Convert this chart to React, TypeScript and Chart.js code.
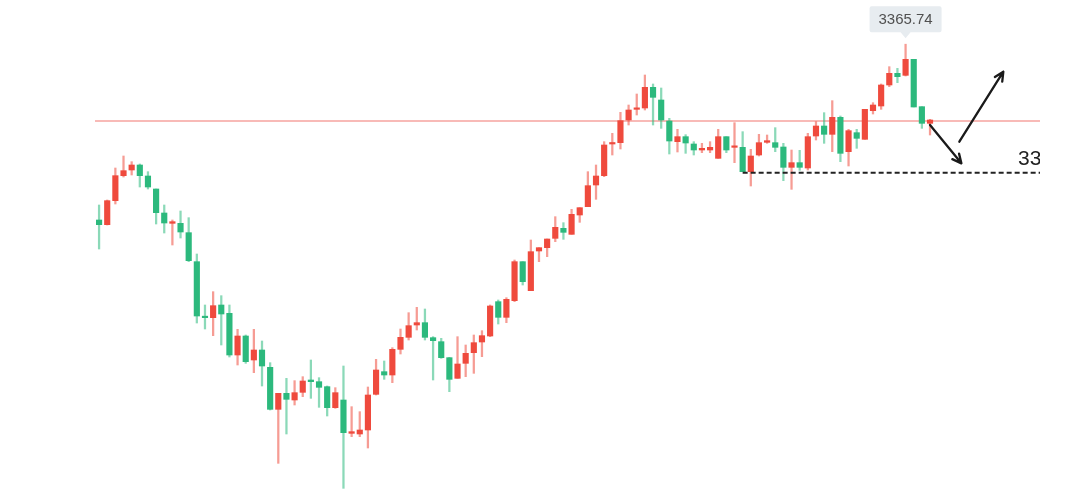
import React, { useEffect, useRef } from "react";
import { Chart, registerables } from "chart.js";

Chart.register(...registerables);

// ---- Data (price units) ----
const opens = [
  3313.0, 3311.6, 3318.8, 3326.3, 3328.0, 3329.5, 3326.2, 3322.3, 3315.1, 3312.0,
  3312.0, 3309.2, 3300.5, 3284.0, 3283.7, 3287.5, 3285.0, 3272.5, 3278.2, 3271.0,
  3274.0, 3268.8, 3256.2, 3261.0, 3259.0, 3261.3, 3265.0, 3264.5, 3263.0, 3256.7,
  3259.0, 3249.0, 3248.8, 3250.0, 3260.7, 3267.5, 3266.5, 3274.2, 3277.8, 3281.5,
  3282.2, 3277.7, 3276.5, 3271.7, 3265.5, 3270.0, 3273.2, 3276.4, 3278.2, 3288.5,
  3283.8, 3288.8, 3300.5, 3291.8, 3303.7, 3304.7, 3307.5, 3310.5, 3308.7, 3314.5,
  3317.0, 3323.5, 3326.3, 3335.8, 3336.2, 3343.0, 3346.2, 3346.6, 3352.8, 3349.0,
  3342.7, 3336.5, 3338.0, 3335.8, 3334.0, 3334.0, 3331.5, 3338.0, 3334.8, 3334.8,
  3327.5, 3332.5, 3336.3, 3336.2, 3334.9, 3328.8, 3330.2, 3328.6, 3338.2, 3341.2,
  3338.7, 3343.8, 3333.5, 3339.2, 3337.2, 3345.8, 3347.2, 3353.5, 3357.0, 3356.4,
  3361.2, 3347.0, 3342.0,
];
const highs = [
  3317.5, 3319.0, 3328.6, 3332.2, 3330.5, 3329.8, 3327.5, 3322.3, 3317.5, 3313.0,
  3315.7, 3313.7, 3302.8, 3287.5, 3291.5, 3290.3, 3287.5, 3280.2, 3278.5, 3280.2,
  3276.7, 3270.2, 3261.0, 3265.5, 3264.8, 3266.0, 3271.0, 3265.7, 3263.2, 3262.7,
  3269.2, 3257.0, 3255.5, 3262.9, 3271.2, 3270.7, 3274.7, 3280.3, 3285.2, 3286.8,
  3286.3, 3278.0, 3277.5, 3271.8, 3278.0, 3275.5, 3278.5, 3279.8, 3287.5, 3289.0,
  3289.7, 3301.0, 3300.5, 3307.0, 3304.7, 3307.3, 3314.0, 3312.2, 3316.2, 3316.7,
  3327.5, 3329.5, 3336.5, 3339.0, 3345.3, 3347.5, 3350.8, 3356.5, 3353.8, 3352.6,
  3343.5, 3340.2, 3338.6, 3336.5, 3336.0, 3336.5, 3340.2, 3338.0, 3342.2, 3339.5,
  3334.2, 3338.7, 3338.5, 3340.7, 3336.0, 3334.0, 3333.9, 3339.0, 3342.5, 3345.2,
  3348.8, 3344.2, 3340.2, 3340.2, 3346.2, 3348.2, 3353.8, 3359.0, 3358.5, 3365.74,
  3361.2, 3347.0, 3343.2,
];
const lows = [
  3304.3, 3311.5, 3317.8, 3325.9, 3326.5, 3322.9, 3322.3, 3311.8, 3309.1, 3305.5,
  3307.6, 3300.5, 3282.1, 3280.3, 3278.3, 3275.5, 3271.9, 3269.5, 3270.0, 3267.2,
  3263.2, 3256.0, 3240.0, 3248.8, 3257.5, 3260.0, 3259.5, 3256.8, 3254.2, 3256.5,
  3232.5, 3248.0, 3248.0, 3244.6, 3260.5, 3265.2, 3264.2, 3272.8, 3277.0, 3280.0,
  3277.0, 3265.0, 3271.5, 3261.5, 3265.5, 3266.0, 3267.0, 3272.0, 3278.0, 3281.8,
  3282.2, 3288.5, 3293.5, 3291.8, 3300.5, 3302.0, 3306.5, 3307.2, 3308.7, 3312.3,
  3317.0, 3319.2, 3326.0, 3332.5, 3334.3, 3341.5, 3344.5, 3346.0, 3341.5, 3340.5,
  3332.8, 3333.4, 3333.0, 3332.5, 3333.2, 3333.2, 3331.5, 3333.2, 3330.2, 3327.5,
  3323.2, 3332.2, 3336.0, 3333.5, 3324.8, 3322.2, 3327.9, 3328.0, 3337.0, 3336.0,
  3333.5, 3330.5, 3329.2, 3334.5, 3337.2, 3344.8, 3346.2, 3353.0, 3354.2, 3356.2,
  3346.9, 3340.5, 3338.5,
];
const closes = [
  3311.6, 3318.8, 3326.3, 3327.8, 3329.5, 3326.3, 3322.9, 3315.2, 3312.1, 3312.5,
  3309.4, 3300.8, 3284.2, 3283.7, 3287.3, 3284.8, 3272.5, 3278.2, 3270.5, 3274.0,
  3269.2, 3256.2, 3261.0, 3259.2, 3261.2, 3264.7, 3264.5, 3262.8, 3256.7, 3261.2,
  3249.2, 3249.5, 3250.0, 3260.5, 3268.0, 3266.5, 3274.2, 3277.8, 3281.3, 3282.2,
  3277.8, 3276.8, 3271.7, 3265.2, 3269.8, 3273.0, 3276.2, 3278.3, 3287.2, 3283.8,
  3289.2, 3300.5, 3294.5, 3303.5, 3304.7, 3307.3, 3310.8, 3309.3, 3314.7, 3316.7,
  3323.3, 3326.2, 3335.5, 3336.2, 3342.8, 3346.0, 3346.5, 3352.8, 3349.8, 3343.0,
  3336.7, 3338.0, 3336.1, 3334.0, 3334.5, 3334.8, 3338.0, 3334.0, 3335.0, 3327.5,
  3332.2, 3336.2, 3336.8, 3334.8, 3328.8, 3330.2, 3328.8, 3338.0, 3341.2, 3338.7,
  3343.8, 3333.0, 3339.8, 3337.5, 3346.2, 3347.5, 3353.5, 3357.0, 3356.0, 3361.2,
  3346.9, 3342.0, 3343.0,
];
const emptySlots = 13;
const resistanceLevel = 3342.7;
const supportLevel = 3327.2;
const supportStartIndex = 79;
const supportText = "3327";
const supportTextPos = { index: 112.8, price: 3329.5 };
const peakIndex = 99;
const peakLabel = "3365.74";
const arrowDown = { from: [102, 3341.5], to: [105.85, 3330.0] };
const arrowUp = { from: [105.6, 3336.5], to: [111.0, 3357.5] };
const yMin = 3232.3;
const yMax = 3379.0;

const UP = "#ef4a3d";
const DOWN = "#2cb97d";
const UP_WICK = "rgba(239,74,61,0.55)";
const DOWN_WICK = "rgba(44,185,125,0.55)";

const App: React.FC = () => {
  const ref = useRef<HTMLCanvasElement | null>(null);

  useEffect(() => {
    if (!ref.current) return;
    const n = opens.length;
    const total = n + emptySlots;
    const labels = Array.from({ length: total }, (_, i) => String(i));
    const wickData = labels.map((_, i) => (i < n ? [lows[i], highs[i]] : null));
    const bodyData = labels.map((_, i) => (i < n ? [opens[i], closes[i]] : null));
    const isUp = labels.map((_, i) => (i < n ? closes[i] >= opens[i] : true));

    const overlay = {
      id: "overlay",
      beforeDatasetsDraw(chart: any) {
        const { ctx, chartArea, scales } = chart;
        const y = scales.y;
        const yy = y.getPixelForValue(resistanceLevel);
        ctx.save();
        ctx.strokeStyle = "rgba(238,90,80,0.55)";
        ctx.lineWidth = 1.5;
        ctx.beginPath();
        ctx.moveTo(chartArea.left, yy);
        ctx.lineTo(chartArea.right, yy);
        ctx.stroke();
        ctx.restore();
      },
      afterDatasetsDraw(chart: any) {
        const { ctx, chartArea, scales } = chart;
        const x = scales.x;
        const y = scales.y;
        ctx.save();
        ctx.beginPath();
        ctx.rect(chartArea.left, 0, chartArea.right - chartArea.left, chart.height);
        ctx.clip();

        // support dashed line
        const sy = y.getPixelForValue(supportLevel);
        ctx.strokeStyle = "#222";
        ctx.lineWidth = 2;
        ctx.setLineDash([5, 3]);
        ctx.beginPath();
        ctx.moveTo(x.getPixelForValue(supportStartIndex), sy);
        ctx.lineTo(chartArea.right, sy);
        ctx.stroke();
        ctx.setLineDash([]);

        // support text (clipped at right)
        ctx.fillStyle = "#222";
        ctx.font = "21px 'Liberation Sans', Arial, sans-serif";
        ctx.textAlign = "left";
        ctx.textBaseline = "alphabetic";
        ctx.fillText(
          supportText,
          x.getPixelForValue(supportTextPos.index),
          y.getPixelForValue(supportTextPos.price)
        );

        // arrows
        const drawArrow = (a: { from: number[]; to: number[] }) => {
          const x1 = x.getPixelForValue(a.from[0]);
          const y1 = y.getPixelForValue(a.from[1]);
          const x2 = x.getPixelForValue(a.to[0]);
          const y2 = y.getPixelForValue(a.to[1]);
          const ang = Math.atan2(y2 - y1, x2 - x1);
          const L = 10;
          ctx.strokeStyle = "#1a1a1a";
          ctx.lineWidth = 2.3;
          ctx.lineCap = "round";
          ctx.lineJoin = "round";
          ctx.beginPath();
          ctx.moveTo(x1, y1);
          ctx.lineTo(x2, y2);
          ctx.moveTo(x2 - L * Math.cos(ang - 0.45), y2 - L * Math.sin(ang - 0.45));
          ctx.lineTo(x2, y2);
          ctx.lineTo(x2 - L * Math.cos(ang + 0.45), y2 - L * Math.sin(ang + 0.45));
          ctx.stroke();
        };
        drawArrow(arrowDown);
        drawArrow(arrowUp);
        ctx.restore();

        // peak label
        ctx.save();
        const px = x.getPixelForValue(peakIndex);
        const py = y.getPixelForValue(highs[peakIndex]);
        const bw = 72;
        const bh = 26;
        const bottom = py - 12;
        const top = bottom - bh;
        const left = px - bw / 2;
        ctx.fillStyle = "#e7ecf0";
        ctx.beginPath();
        const r = 2;
        ctx.moveTo(left + r, top);
        ctx.lineTo(left + bw - r, top);
        ctx.quadraticCurveTo(left + bw, top, left + bw, top + r);
        ctx.lineTo(left + bw, bottom - r);
        ctx.quadraticCurveTo(left + bw, bottom, left + bw - r, bottom);
        ctx.lineTo(px + 5, bottom);
        ctx.lineTo(px, bottom + 6);
        ctx.lineTo(px - 5, bottom);
        ctx.lineTo(left + r, bottom);
        ctx.quadraticCurveTo(left, bottom, left, bottom - r);
        ctx.lineTo(left, top + r);
        ctx.quadraticCurveTo(left, top, left + r, top);
        ctx.closePath();
        ctx.fill();
        ctx.fillStyle = "#505050";
        ctx.font = "15px 'Liberation Sans', Arial, sans-serif";
        ctx.textAlign = "center";
        ctx.textBaseline = "middle";
        ctx.fillText(peakLabel, px, top + bh / 2 + 0.5);
        ctx.restore();
      },
    };

    const chart = new Chart(ref.current, {
      type: "bar",
      data: {
        labels,
        datasets: [
          {
            label: "wick",
            data: wickData as any,
            backgroundColor: isUp.map((u) => (u ? UP_WICK : DOWN_WICK)),
            barThickness: 1.6,
            grouped: false,
            order: 2,
          } as any,
          {
            label: "body",
            data: bodyData as any,
            backgroundColor: isUp.map((u) => (u ? UP : DOWN)),
            barThickness: 5.5,
            minBarLength: 1.5,
            grouped: false,
            order: 1,
          } as any,
        ],
      },
      options: {
        animation: false,
        responsive: true,
        maintainAspectRatio: false,
        layout: { padding: { left: 95, right: 35, top: 0, bottom: 0 } },
        plugins: { legend: { display: false }, tooltip: { enabled: false } },
        scales: {
          x: { display: false, offset: true, grid: { display: false } },
          y: { display: false, min: yMin, max: yMax, grid: { display: false } },
        },
      },
      plugins: [overlay],
    });
    return () => chart.destroy();
  }, []);

  return (
    <div style={{ position: "fixed", left: 0, top: 0, width: 1075, height: 489, background: "#fff" }}>
      <canvas ref={ref} />
    </div>
  );
};

export default App;
